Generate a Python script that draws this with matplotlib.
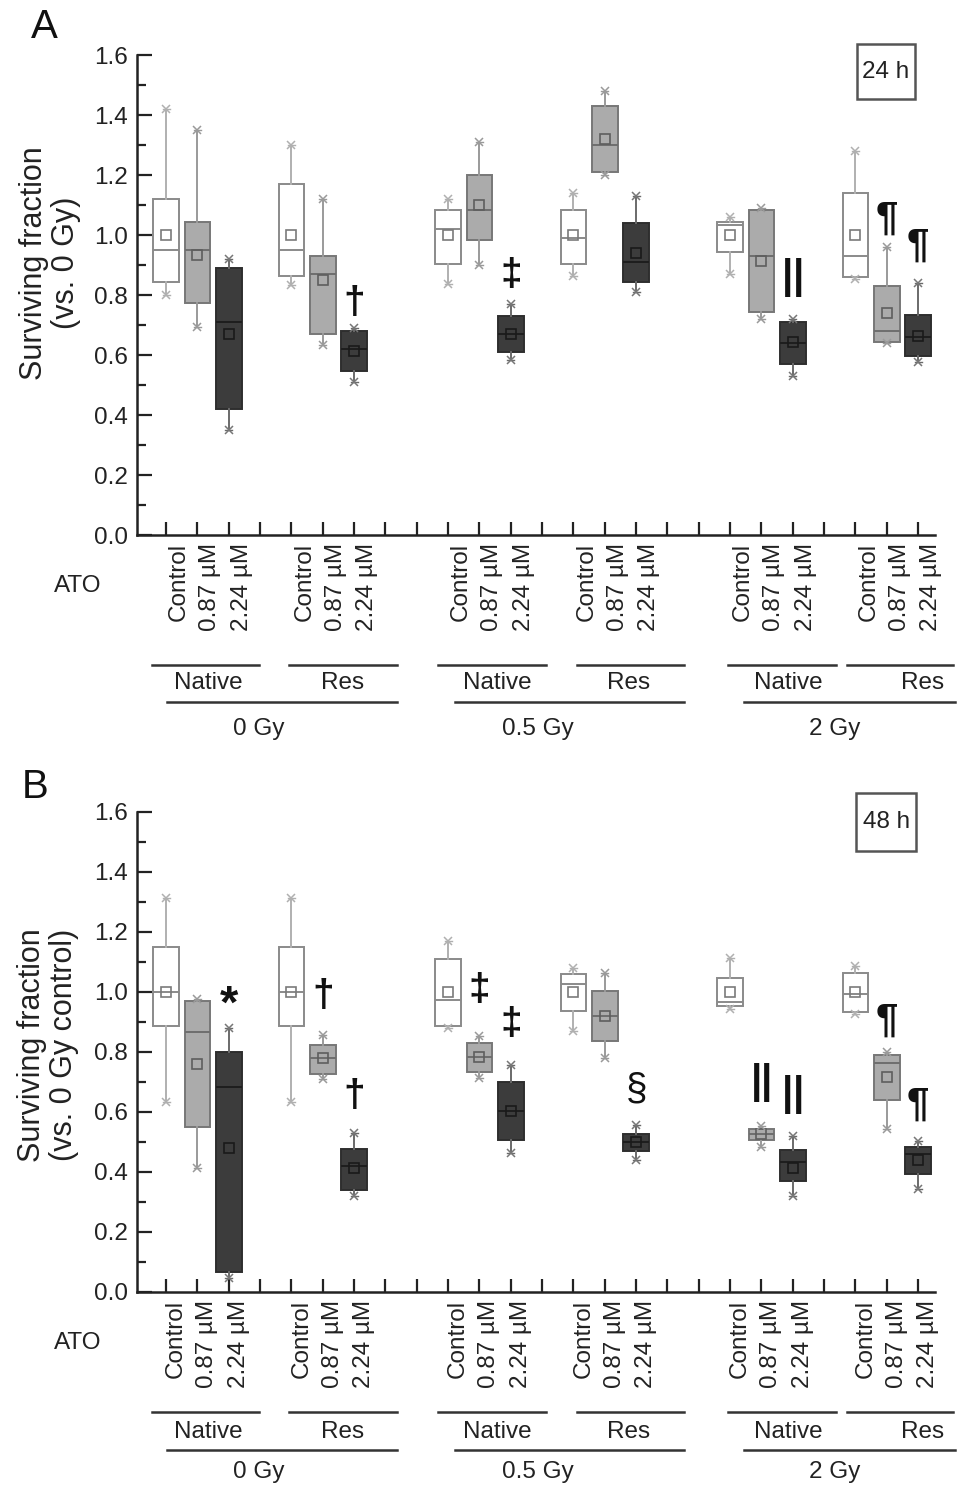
import matplotlib
matplotlib.use('Agg')
import matplotlib.pyplot as plt
import numpy as np
from matplotlib import transforms
from matplotlib.patches import Rectangle
from matplotlib.lines import Line2D
from matplotlib.ticker import MultipleLocator

plt.rcParams['font.family'] = ['Liberation Sans', 'DejaVu Sans']

# ---------------- data ----------------
treatments = ['Control', '0.87 µM', '2.24 µM']
cells = ['Native', 'Res', 'Native', 'Res', 'Native', 'Res']
doses = ['0 Gy', '0.5 Gy', '2 Gy']
group_starts = [1, 5, 10, 14, 19, 23]

# Panel A (24 h): order = group (Native0, Res0, Native0.5, Res0.5, Native2, Res2) x treatment
A_max  = [1.42, 1.35, 0.92,  1.30, 1.12, 0.69,  1.12, 1.31, 0.77,  1.14, 1.48, 1.13,  1.06, 1.09, 0.72,  1.28, 0.96, 0.84]
A_q3   = [1.12, 1.045, 0.89, 1.17, 0.93, 0.68,  1.085, 1.20, 0.73, 1.085, 1.43, 1.04, 1.045, 1.085, 0.71, 1.14, 0.83, 0.735]
A_med  = [0.95, 0.95, 0.71,  0.95, 0.87, 0.62,  1.02, 1.085, 0.67, 0.99, 1.30, 0.91,  1.035, 0.93, 0.64,  0.93, 0.68, 0.66]
A_mean = [1.00, 0.935, 0.67, 1.00, 0.85, 0.615, 1.00, 1.10, 0.67,  1.00, 1.32, 0.94,  1.00, 0.915, 0.645, 1.00, 0.74, 0.665]
A_q1   = [0.845, 0.775, 0.42, 0.865, 0.67, 0.547, 0.905, 0.985, 0.61, 0.905, 1.21, 0.845, 0.945, 0.745, 0.57, 0.86, 0.645, 0.597]
A_min  = [0.80, 0.695, 0.35, 0.835, 0.633, 0.51, 0.836, 0.90, 0.583, 0.862, 1.20, 0.81, 0.87, 0.72, 0.53, 0.855, 0.64, 0.577]

# Panel B (48 h)
B_max  = [1.315, 0.977, 0.881, 1.314, 0.858, 0.531, 1.169, 0.855, 0.757, 1.08, 1.062, 0.558, 1.112, 0.552, 0.519, 1.086, 0.801, 0.502]
B_q3   = [1.149, 0.969, 0.801, 1.149, 0.825, 0.478, 1.11, 0.831, 0.70,  1.06, 1.003, 0.526, 1.048, 0.544, 0.475, 1.062, 0.789, 0.483]
B_med  = [1.00, 0.866, 0.685, 1.00, 0.781, 0.421, 0.973, 0.783, 0.605, 1.027, 0.92, 0.499, 0.967, 0.526, 0.433, 0.993, 0.763, 0.459]
B_mean = [1.00, 0.76, 0.481, 1.00, 0.781, 0.413, 1.00, 0.783, 0.605, 1.00, 0.92, 0.499, 1.00, 0.526, 0.415, 1.00, 0.718, 0.439]
B_q1   = [0.887, 0.55, 0.068, 0.887, 0.728, 0.341, 0.887, 0.734, 0.507, 0.938, 0.837, 0.471, 0.952, 0.507, 0.37, 0.932, 0.641, 0.392]
B_min  = [0.633, 0.412, 0.047, 0.633, 0.71, 0.32, 0.881, 0.715, 0.463, 0.87, 0.781, 0.439, 0.944, 0.484, 0.32, 0.926, 0.544, 0.344]

# significance marks: (position, symbol, y)
A_sig_pos = [7, 12, 21, 24, 25]
A_sig_sym = ['†', '‡', '||', '¶', '¶']
A_sig_y   = [0.773, 0.868, 0.857, 1.053, 0.964]
B_sig_pos = [3, 6, 7, 11, 12, 16, 20, 21, 24, 25]
B_sig_sym = ['*', '†', '†', '‡', '‡', '§', '||', '||', '¶', '¶']
B_sig_y   = [0.955, 0.988, 0.653, 1.006, 0.893, 0.674, 0.700, 0.659, 0.906, 0.623]

# ---------------- styles ----------------
fills = ['#ffffff', '#ababab', '#3c3c3c']
edges = ['#8a8a8a', '#777777', '#2e2e2e']
medc = ['#8a8a8a', '#6e6e6e', '#1e1e1e']
whisk = ['#b0b0b0', '#9a9a9a', '#6a6a6a']
meanc = ['#7a7a7a', '#5e5e5e', '#1a1a1a']
dark = '#222222'

W, H = 969, 1498
fig = plt.figure(figsize=(W / 100, H / 100), dpi=100)

def px_axes(left, top, right, bottom):
    return fig.add_axes([left / W, 1 - bottom / H, (right - left) / W, (bottom - top) / H])

axA = px_axes(137, 55, 935, 535)
axB = px_axes(137, 812, 935, 1292)

positions = [g + t for g in group_starts for t in range(3)]

sym_fmt = {'†': dict(fontsize=28, fontweight='bold'),
           '‡': dict(fontsize=28, fontweight='bold'),
           '|': dict(fontsize=29, fontweight='bold'),
           '¶': dict(fontsize=29, fontweight='bold'),
           '§': dict(fontsize=28),
           '*': dict(fontsize=34, fontweight='bold')}

def draw_panel(ax, vmax, q3, med, mean, q1, vmin, sig_pos, sig_sym, sig_y,
               label_dx, yline, ylabel, letter, letter_xy, tag, tag_rect):
    for t in range(3):
        idx = [3 * g + t for g in range(6)]
        stats = [dict(whislo=vmin[i], q1=q1[i], med=med[i], q3=q3[i], whishi=vmax[i],
                      mean=mean[i], fliers=[]) for i in idx]
        pos = [positions[i] for i in idx]
        ax.bxp(stats, positions=pos, widths=0.82, patch_artist=True, showmeans=True,
               showfliers=False, capwidths=0.22,
               boxprops=dict(facecolor=fills[t], edgecolor=edges[t], linewidth=1.4),
               medianprops=dict(color=medc[t], linewidth=1.4),
               whiskerprops=dict(color=whisk[t], linewidth=1.4),
               capprops=dict(color=whisk[t], linewidth=1.0),
               meanprops=dict(marker='s', markerfacecolor='none', markeredgecolor=meanc[t],
                              markersize=6.5, markeredgewidth=1.2))
        ax.plot(pos, [vmax[i] for i in idx], 'x', color=whisk[t] if t < 2 else '#777777',
                markersize=6, markeredgewidth=1.1, zorder=5)
        ax.plot(pos, [vmin[i] for i in idx], 'x', color=whisk[t] if t < 2 else '#777777',
                markersize=6, markeredgewidth=1.1, zorder=5)

    for p, s, y in zip(sig_pos, sig_sym, sig_y):
        if s == '||':
            for dx in (-0.17, 0.17):
                ax.text(p + dx, y, '|', ha='center', va='center', color='#111111',
                        **sym_fmt['|'])
        else:
            ax.text(p, y, s, ha='center', va='center', color='#111111', **sym_fmt[s])

    ax.set_xlim(0.07, 25.54)
    ax.set_ylim(0, 1.6)
    for side in ['top', 'right']:
        ax.spines[side].set_visible(False)
    for side in ['left', 'bottom']:
        ax.spines[side].set_linewidth(1.8)
        ax.spines[side].set_color(dark)

    ax.set_yticks(np.arange(0, 1.61, 0.2))
    ax.set_yticklabels([f'{v:.1f}' for v in np.arange(0, 1.61, 0.2)])
    ax.yaxis.set_minor_locator(MultipleLocator(0.1))
    ax.tick_params(axis='y', which='major', direction='in', length=11, width=1.6,
                   labelsize=17.5, pad=6.5, colors=dark)
    ax.tick_params(axis='y', which='minor', direction='in', length=6.5, width=1.6, colors=dark)

    ticks = list(range(1, 26))
    labels = [''] * 25
    for i, p in enumerate(positions):
        labels[p - 1] = treatments[i % 3]
    ax.set_xticks(ticks)
    ax.set_xticklabels(labels, rotation=90)
    ax.tick_params(axis='x', direction='in', length=9.5, width=1.6, labelsize=17.5,
                   pad=6, colors=dark)
    off = transforms.ScaledTranslation(label_dx / 100, 0, fig.dpi_scale_trans)
    for lab in ax.get_xticklabels():
        lab.set_transform(lab.get_transform() + off)

    bl = transforms.blended_transform_factory(ax.transData, ax.transAxes)
    ax.text(-1.81, yline[0], 'ATO', transform=bl, ha='center', va='center',
            fontsize=17.5, color=dark, clip_on=False)
    cell_x0 = [0.55, 4.93, 9.68, 14.12, 18.94, 22.74]
    cell_x1 = [3.97, 8.37, 13.13, 17.53, 22.39, 26.12]
    cell_xc = [2.34, 6.62, 11.56, 15.75, 20.85, 25.13]
    for x0, x1, xc, name in zip(cell_x0, cell_x1, cell_xc, cells):
        ax.add_line(Line2D([x0, x1], [yline[1], yline[1]], transform=bl, clip_on=False,
                           color='#333333', linewidth=1.8))
        ax.text(xc, yline[2], name, transform=bl, ha='center', va='center',
                fontsize=17.5, color=dark, clip_on=False)
    dose_x0 = [1.03, 10.22, 19.45]
    dose_x1 = [8.37, 17.53, 26.18]
    dose_xc = [3.94, 12.87, 22.35]
    for x0, x1, xc, name in zip(dose_x0, dose_x1, dose_xc, doses):
        ax.add_line(Line2D([x0, x1], [yline[3], yline[3]], transform=bl, clip_on=False,
                           color='#333333', linewidth=1.8))
        ax.text(xc, yline[4], name, transform=bl, ha='center', va='center',
                fontsize=17.5, color=dark, clip_on=False)

    # tag box
    rx, ry, rw, rh = tag_rect
    ax.add_patch(Rectangle((rx, ry), rw, rh, fill=False, edgecolor='#555555',
                           linewidth=1.8, clip_on=False))
    ax.text(rx + rw / 2, ry + rh / 2, tag, ha='center', va='center', fontsize=17.5,
            color=dark, clip_on=False)

    # y label & panel letter
    fig.text(ylabel[1] / W, 1 - ylabel[2] / H, ylabel[0], rotation=90, ha='center',
             va='center', fontsize=22, color=dark, linespacing=1.1,
             multialignment='center')
    fig.text(letter_xy[0] / W, 1 - letter_xy[1] / H, letter, ha='center', va='center',
             fontsize=29, color='#111111')

draw_panel(axA, A_max, A_q3, A_med, A_mean, A_q1, A_min, A_sig_pos, A_sig_sym, A_sig_y,
           label_dx=13, yline=[-0.106, -0.271, -0.308, -0.348, -0.404],
           ylabel=('Surviving fraction\n(vs. 0 Gy)', 50, 263), letter='A',
           letter_xy=(44, 27), tag='24 h', tag_rect=(23.05, 1.453, 1.85, 0.182))
draw_panel(axB, B_max, B_q3, B_med, B_mean, B_q1, B_min, B_sig_pos, B_sig_sym, B_sig_y,
           label_dx=10, yline=[-0.106, -0.251, -0.291, -0.329, -0.376],
           ylabel=('Surviving fraction\n(vs. 0 Gy control)', 48, 1045), letter='B',
           letter_xy=(35, 787), tag='48 h', tag_rect=(23.02, 1.47, 1.92, 0.195))

fig.savefig('out.png', dpi=100)
